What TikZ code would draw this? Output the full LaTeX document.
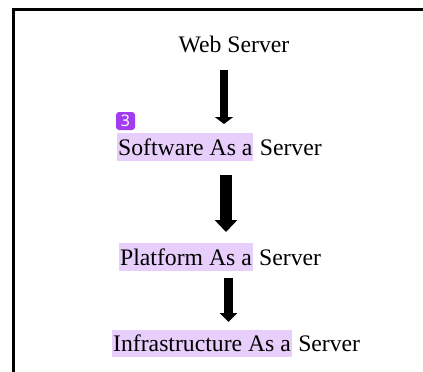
\documentclass[tikz,border=0pt]{standalone}
\usepackage{fontspec}
\setmainfont{Liberation Serif}
\newfontfamily\badgefont{Noto Sans}
\usetikzlibrary{arrows.meta}
\definecolor{hlcol}{HTML}{E8CEFB}
\definecolor{badgecol}{HTML}{A23CF0}
\begin{document}
\begin{tikzpicture}[x=1pt,y=1pt,
  txt/.style={font=\fontsize{23.7}{28}\selectfont, inner sep=0pt, text height=16.5pt, text depth=0pt},
  hlbox/.style={txt, fill=hlcol, inner xsep=1pt, inner ysep=5.5pt},
  fatarrow/.style={draw=black, line width=#1}
]
\useasboundingbox (0,0) rectangle (423,-372);
\begin{scope}
\clip (0,0) rectangle (423,-372);
\draw[line width=3pt] (13,-9.5) rectangle (450,-420);
\end{scope}

% texts
\node[txt, anchor=base] (ws) at (234,-52) {Web Server};

\node[hlbox, anchor=base west] (saasA) at (117,-155) {Software As a};
\node[txt, anchor=base west] (saasB) at ([xshift=6pt]saasA.base east) {Server};

\node[hlbox, anchor=base west] (paasA) at (119,-265) {Platform As a};
\node[txt, anchor=base west] (paasB) at ([xshift=6pt]paasA.base east) {Server};

\node[hlbox, anchor=base west] (iaasA) at (112,-351.5) {Infrastructure As a};
\node[txt, anchor=base west] (iaasB) at ([xshift=6pt]iaasA.base east) {Server};

% badge
\node[fill=badgecol, rounded corners=3pt, minimum width=19pt, minimum height=18pt, inner sep=0pt,
      text=white, font=\badgefont\fontsize{16}{16}\selectfont] (badge) at (125.5,-121) {3};

% arrows
\coordinate (a1s) at (224,-70);
\coordinate (a1e) at (224,-124);
\coordinate (a2s) at (226,-175);
\coordinate (a2e) at (226,-232);
\coordinate (a3s) at (228.5,-278);
\coordinate (a3e) at (228.5,-322);
\draw[fatarrow=8pt, -{Triangle[width=18pt,length=7pt]}] (a1s) -- (a1e);
\draw[fatarrow=11.5pt, -{Triangle[width=22pt,length=12pt]}] (a2s) -- (a2e);
\draw[fatarrow=9pt, -{Triangle[width=17pt,length=9pt]}] (a3s) -- (a3e);
\end{tikzpicture}
\end{document}
